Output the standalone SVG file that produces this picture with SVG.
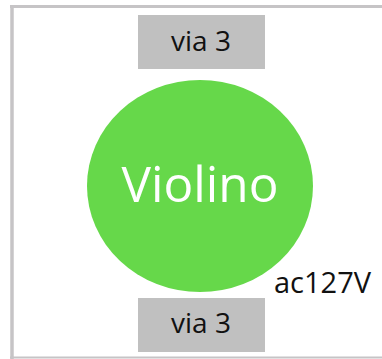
<svg xmlns="http://www.w3.org/2000/svg" width="382" height="359" viewBox="0 0 382 359">
<style>
.box{fill:#c0c0c0}
.lbl{font-family:"Open Sans","Noto Sans",sans-serif;fill:#111;text-anchor:middle}
.frame{stroke:#c6c4c6;fill:none}
</style>
<rect width="382" height="359" fill="#fff"/>
<g id="frame">
<line class="frame" x1="12" y1="5" x2="12" y2="359" stroke-width="3.5"/>
<line class="frame" x1="10" y1="6.5" x2="382" y2="6.5" stroke-width="3"/>
<line class="frame" x1="10" y1="357.5" x2="382" y2="357.5" stroke-width="2"/>
</g>
<g id="via-top">
<rect class="box" x="138" y="15" width="127" height="54"/>
<text class="lbl" x="201" y="51" font-size="28">via 3</text>
</g>
<g id="violino">
<ellipse cx="200" cy="186" rx="113" ry="106" fill="#66d84a"/>
<text class="lbl" x="200" y="202" font-size="49.5" style="fill:#fff">Violino</text>
</g>
<g id="via-bottom">
<rect class="box" x="138" y="298" width="127" height="54"/>
<text class="lbl" x="201" y="333" font-size="28">via 3</text>
</g>
<g id="label-ac">
<text class="lbl" x="322.5" y="293" font-size="29">ac127V</text>
</g>
<g id="connectors"></g>
</svg>
